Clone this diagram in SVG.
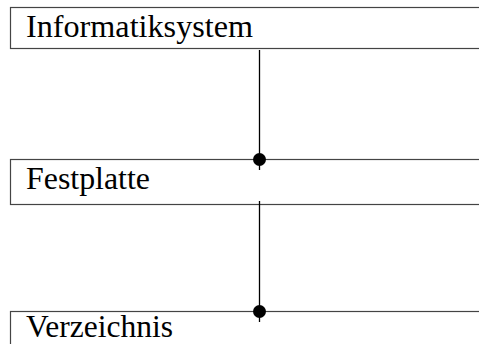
<svg xmlns="http://www.w3.org/2000/svg" width="479" height="344" viewBox="0 0 479 344">
<style>
.box{fill:#fff;stroke:#444;stroke-width:1.2}
.lbl{font-family:"Liberation Serif","DejaVu Serif","Times New Roman",serif;font-size:31px;fill:#000}
.conn{stroke:#000;stroke-width:1.3;fill:none}
</style>
<g id="informatiksystem">
<rect class="box" x="10.5" y="7.5" width="480" height="41"/>
<text class="lbl" x="26" y="37" textLength="227" lengthAdjust="spacingAndGlyphs">Informatiksystem</text>
</g>
<g id="festplatte">
<rect class="box" x="10.5" y="159.5" width="480" height="45"/>
<text class="lbl" x="26" y="189" textLength="124" lengthAdjust="spacingAndGlyphs">Festplatte</text>
</g>
<g id="verzeichnis">
<rect class="box" x="10.5" y="311.5" width="480" height="45"/>
<text class="lbl" x="26" y="337" textLength="147" lengthAdjust="spacingAndGlyphs">Verzeichnis</text>
</g>
<g id="connectors">
<line class="conn" x1="259.5" y1="50" x2="259.5" y2="170"/>
<circle cx="259.5" cy="159.5" r="6.5" fill="#000"/>
<line class="conn" x1="259.5" y1="201" x2="259.5" y2="322"/>
<circle cx="259.5" cy="311.5" r="6.5" fill="#000"/>
</g>
</svg>
